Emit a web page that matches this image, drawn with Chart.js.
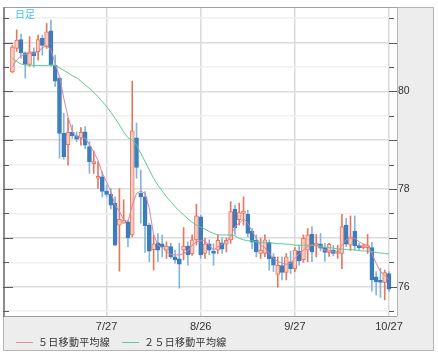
<!DOCTYPE html>
<html><head><meta charset="utf-8">
<script src="https://cdn.jsdelivr.net/npm/chart.js@4/dist/chart.umd.min.js"></script>
<style>
html,body{margin:0;padding:0;background:#fff;width:438px;height:358px;overflow:hidden;}
#c{position:absolute;left:0;top:0;}
.ov{position:absolute;font-family:"Noto Sans CJK JP","Noto Sans",sans-serif;white-space:nowrap;}
#ttl{left:15px;top:8px;font-size:10px;line-height:12px;color:#45bff2;}
#leg{left:16px;top:336px;font-size:10px;line-height:12px;color:#333;letter-spacing:0.3px;}
#leg span.ln{display:inline-block;width:17px;height:0;border-top:1px solid;vertical-align:middle;margin-right:5px;position:relative;top:-1px;}
#leg span.it{margin-right:12px;}
</style></head>
<body>
<canvas id="c" width="438" height="358"></canvas>
<div class="ov" id="ttl">日足</div>
<div class="ov" id="leg"><span class="it"><span class="ln" style="border-color:#e08a9a"></span>５日移動平均線</span><span class="it"><span class="ln" style="border-color:#5ccb95"></span>２５日移動平均線</span></div>
<script>
const dates = ['6/27','6/28','6/29','6/30','7/1','7/4','7/5','7/6','7/7','7/8','7/11','7/12','7/13','7/14','7/15','7/18','7/19','7/20','7/21','7/22','7/25','7/26','7/27','7/28','7/29','8/1','8/2','8/3','8/4','8/5','8/8','8/9','8/10','8/11','8/12','8/15','8/16','8/17','8/18','8/19','8/22','8/23','8/24','8/25','8/26','8/29','8/30','8/31','9/1','9/2','9/5','9/6','9/7','9/8','9/9','9/12','9/13','9/14','9/15','9/16','9/19','9/20','9/21','9/22','9/23','9/26','9/27','9/28','9/29','9/30','10/3','10/4','10/5','10/6','10/7','10/10','10/11','10/12','10/13','10/14','10/17','10/18','10/19','10/20','10/21','10/24','10/25','10/26','10/27'];
const openV = [80.40,80.88,81.06,80.79,80.55,80.81,80.81,81.09,80.91,81.24,80.54,80.27,79.14,78.91,79.16,79.09,79.04,79.17,78.87,78.52,78.22,78.25,77.96,77.89,77.71,77.26,77.30,77.33,77.06,79.05,77.91,77.84,77.26,76.76,76.90,76.88,76.75,76.82,76.61,76.57,76.75,76.83,76.67,76.96,77.43,76.68,76.88,76.73,76.75,76.90,76.87,76.96,77.59,77.37,77.50,77.48,77.14,76.95,76.68,76.68,76.91,76.61,76.25,76.43,76.29,76.51,76.37,76.73,76.55,76.75,77.07,76.85,76.88,76.80,76.70,76.75,76.68,76.68,77.26,76.85,77.14,76.84,76.80,76.80,76.80,76.20,76.12,76.09,76.27];
const highV = [80.94,81.26,81.17,80.81,81.12,80.89,81.15,81.15,81.39,81.46,80.74,80.30,79.55,79.45,79.31,79.17,79.26,79.28,78.97,78.78,78.56,78.35,78.08,78.01,77.84,78.01,77.78,77.37,80.21,79.35,78.39,77.95,77.30,77.06,77.09,77.06,76.92,76.89,76.75,76.89,77.21,76.92,77.06,77.69,77.47,76.99,76.96,76.88,77.06,77.00,77.00,77.74,77.67,77.71,77.84,77.57,77.19,77.06,76.99,77.06,76.96,76.68,76.61,76.61,76.68,76.73,76.80,76.85,77.06,77.19,77.23,77.07,77.09,76.89,76.89,76.85,76.85,77.48,77.40,77.45,77.45,76.89,76.87,77.07,76.91,76.31,76.38,76.34,76.31];
const lowV = [80.38,80.82,80.68,80.27,80.51,80.50,80.64,80.74,80.88,80.51,80.10,78.63,78.61,78.49,79.04,78.97,78.90,78.82,78.32,78.32,78.01,77.84,77.84,77.59,76.84,76.32,77.30,76.82,77.02,78.22,77.30,76.70,76.51,76.34,76.51,76.61,76.58,76.58,76.48,75.97,76.55,76.44,76.64,76.85,76.58,76.58,76.65,76.44,76.68,76.68,76.71,76.89,77.06,77.26,77.26,77.02,76.78,76.61,76.58,76.61,76.34,76.31,75.99,76.14,76.14,76.27,76.31,76.44,76.50,76.51,76.51,76.61,76.73,76.52,76.62,76.63,76.58,76.37,76.82,76.74,76.75,76.75,76.77,76.68,75.91,75.83,75.78,75.73,75.90];
const closeV = [80.91,81.05,80.79,80.55,80.81,80.73,81.06,80.94,81.22,80.54,80.21,79.14,78.66,79.16,79.09,79.02,79.16,78.90,78.56,78.54,78.25,77.95,77.89,77.67,76.85,77.38,77.36,77.00,79.19,78.44,77.84,77.25,76.73,76.88,76.75,76.81,76.83,76.61,76.55,76.46,76.83,76.65,76.96,77.45,76.65,76.88,76.75,76.68,76.95,76.77,76.95,77.54,77.21,77.52,77.55,77.09,76.91,76.71,76.75,76.96,76.57,76.44,76.44,76.29,76.61,76.37,76.75,76.53,76.99,77.06,76.71,76.88,76.79,76.70,76.87,76.68,76.72,77.23,76.87,77.02,76.84,76.80,76.82,76.84,76.14,76.10,76.09,76.29,75.95];
const ma5 = [80.50,80.64,80.73,80.76,80.78,80.78,80.81,80.89,80.94,80.85,80.57,80.30,79.86,79.48,79.17,79.07,79.05,79.04,78.91,78.76,78.59,78.32,78.15,77.95,77.67,77.54,77.37,77.33,77.67,77.91,77.96,77.91,77.60,77.06,76.85,76.80,76.72,76.66,76.65,76.65,76.68,76.73,76.85,76.92,76.94,76.94,76.85,76.75,76.82,76.87,76.92,77.02,77.23,77.30,77.39,77.30,77.14,76.99,76.85,76.80,76.68,76.58,76.52,76.48,76.46,76.48,76.58,76.68,76.75,76.82,76.85,76.85,76.80,76.75,76.73,76.72,76.70,76.85,76.96,76.99,76.99,76.92,76.87,76.85,76.68,76.48,76.31,76.24,76.14];
const ma25 = [80.68,80.61,80.56,80.54,80.54,80.53,80.53,80.53,80.53,80.54,80.53,80.48,80.43,80.38,80.32,80.28,80.21,80.13,80.06,79.98,79.89,79.79,79.69,79.57,79.45,79.31,79.17,79.05,79.00,78.90,78.73,78.56,78.39,78.22,78.08,77.96,77.84,77.74,77.64,77.55,77.47,77.39,77.32,77.26,77.22,77.18,77.13,77.09,77.06,77.06,77.06,77.06,77.04,76.99,76.96,76.94,76.94,76.92,76.91,76.90,76.90,76.89,76.88,76.88,76.87,76.87,76.85,76.85,76.85,76.85,76.85,76.84,76.83,76.81,76.80,76.79,76.77,76.77,76.76,76.76,76.75,76.74,76.73,76.73,76.72,76.70,76.69,76.68,76.67];
const xTickIdx = [22, 44, 66, 88];
const yLabelVals = [76, 78, 80];

const UP_BODY = '#f7cdc2', UP_LINE = '#e5775f', DN_BODY = '#3b7dbe', DN_WICK = '#86b4dd';
const isUp = i => closeV[i] >= openV[i];

const wickData = dates.map((d, i) => ({x: i, y: [lowV[i], highV[i]]}));
const bodyData = dates.map((d, i) => ({x: i, y: [Math.min(openV[i], closeV[i]), Math.max(openV[i], closeV[i])]}));
const ma5Data = dates.map((d, i) => ({x: i, y: ma5[i]}));
const ma25Data = dates.map((d, i) => ({x: i, y: ma25[i]}));

const near = (v, k) => Math.abs(v - k) < 1e-6;
const isInt = v => near(v, Math.round(v));

const framePlugin = {
  id: 'frame',
  beforeDraw(chart) {
    const {ctx, chartArea: a} = chart;
    ctx.save();
    ctx.fillStyle = '#ededed';
    ctx.fillRect(3, 7, 431, 344);
    ctx.fillStyle = '#ffffff';
    ctx.fillRect(a.left, a.top, a.right + 8 - a.left, a.bottom - a.top);
    ctx.lineWidth = 1;
    ctx.strokeStyle = '#b4b4b4';
    ctx.strokeRect(3.5, 7.5, 430, 343);
    ctx.beginPath();
    ctx.moveTo(a.right + 8.5, a.top); ctx.lineTo(a.right + 8.5, a.bottom);
    ctx.stroke();
    ctx.restore();
  },
  afterDraw(chart) {
    const {ctx, chartArea: a, scales: {y}} = chart;
    ctx.save();
    ctx.lineWidth = 1;
    ctx.strokeStyle = '#a0a0a0';
    ctx.beginPath();
    ctx.moveTo(a.left, a.top + 0.5); ctx.lineTo(a.right + 8, a.top + 0.5);
    ctx.moveTo(a.left, a.bottom + 0.5); ctx.lineTo(a.right + 8, a.bottom + 0.5);
    ctx.stroke();
    ctx.lineWidth = 2;
    ctx.strokeStyle = '#8c8c8c';
    ctx.beginPath();
    ctx.moveTo(a.left + 1, a.top); ctx.lineTo(a.left + 1, a.bottom + 1);
    ctx.stroke();
    ctx.lineWidth = 1;
    ctx.strokeStyle = '#5a5a5a';
    ctx.beginPath();
    y.ticks.forEach(t => {
      const py = Math.round(y.getPixelForValue(t.value)) + 0.5;
      const major = isInt(t.value);
      ctx.moveTo(a.left, py); ctx.lineTo(a.left + (major ? 10 : 6), py);
      ctx.moveTo(a.right, py); ctx.lineTo(a.right + (major ? 8 : 5), py);
    });
    ctx.stroke();
    ctx.restore();
  }
};

new Chart(document.getElementById('c'), {
  type: 'bar',
  data: {
    datasets: [
      {type: 'line', label: '５日移動平均線', data: ma5Data, borderColor: '#d686a6', borderWidth: 1, pointRadius: 0, tension: 0, order: 0},
      {type: 'line', label: '２５日移動平均線', data: ma25Data, borderColor: '#5ccb95', borderWidth: 1, pointRadius: 0, tension: 0, order: 1},
      {label: 'body', data: bodyData, order: 2, barThickness: 4, minBarLength: 2, grouped: false, clip: 6,
        borderSkipped: false, borderWidth: 1,
        backgroundColor: c => isUp(c.dataIndex) ? UP_BODY : DN_BODY,
        borderColor: c => isUp(c.dataIndex) ? UP_LINE : DN_BODY},
      {label: 'wick', data: wickData, order: 3, barThickness: 1, grouped: false, clip: 6,
        borderWidth: 0,
        backgroundColor: c => isUp(c.dataIndex) ? UP_LINE : DN_WICK}
    ]
  },
  options: {
    responsive: false,
    animation: false,
    events: [],
    layout: {padding: {left: 3, right: 4, top: 7, bottom: 7}},
    plugins: {legend: {display: false}, tooltip: {enabled: false}, title: {display: false}},
    scales: {
      x: {
        type: 'linear', min: -2.2, max: 88, offset: false,
        afterBuildTicks: ax => { ax.ticks = xTickIdx.map(v => ({value: v})); },
        afterFit: ax => { ax.height = 35; ax.paddingLeft = 0; ax.paddingRight = 0; ax.paddingTop = 0; ax.paddingBottom = 0; },
        border: {display: false},
        grid: {color: '#dadada', lineWidth: 1.5, drawTicks: false, offset: false},
        ticks: {padding: 4, color: '#333', font: {family: '"Liberation Sans", Arial, sans-serif', size: 11},
          maxRotation: 0, autoSkip: false, callback: v => dates[v]}
      },
      y: {
        type: 'linear', position: 'right', min: 75.40, max: 81.727,
        afterFit: ax => { ax.width = 45; ax.paddingTop = 0; ax.paddingBottom = 0; ax.paddingLeft = 0; ax.paddingRight = 0; },
        border: {display: false},
        grid: {drawTicks: false, lineWidth: 1.5, color: c => isInt(c.tick.value) ? '#dcdcdc' : '#efefef'},
        ticks: {stepSize: 0.5, includeBounds: false, padding: 9, color: '#333', autoSkip: false,
          font: {family: '"Liberation Sans", Arial, sans-serif', size: 10.5},
          callback: v => yLabelVals.some(k => near(v, k)) ? String(v) : ''}
      }
    }
  },
  plugins: [framePlugin]
});
</script>
</body></html>
